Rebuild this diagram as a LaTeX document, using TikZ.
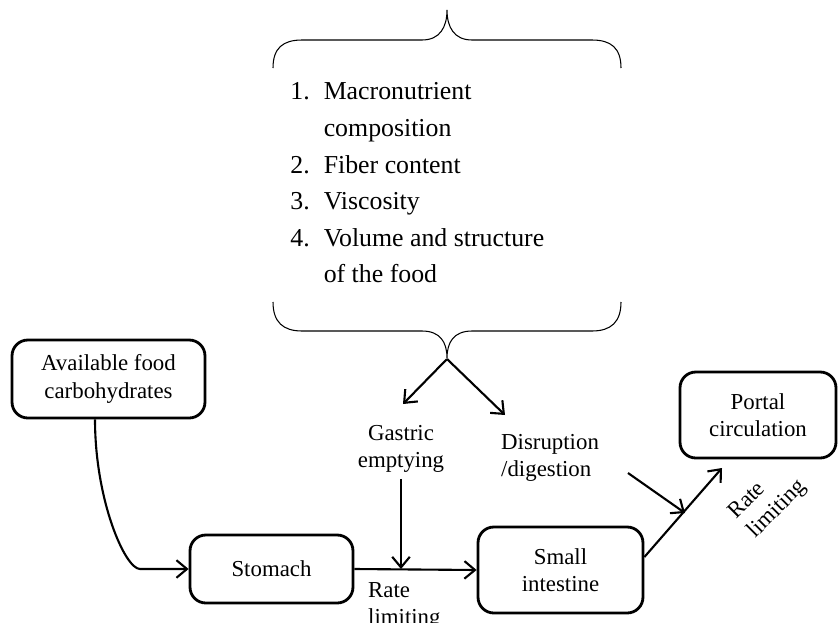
\documentclass[tikz,border=0pt]{standalone}
\usepackage{fontspec}
\setmainfont{Liberation Serif}
\usetikzlibrary{arrows.meta}

\tikzset{
  stagebox/.style={draw, line width=1.6pt, rounded corners=9pt, align=center,
    font=\fontsize{13}{15.5}\selectfont},
  note/.style={font=\fontsize{13}{15.5}\selectfont},
  flow/.style={line width=1.2pt, -{Straight Barb[length=6pt,width=10pt]}},
  brace/.style={line width=0.6pt},
}

\begin{document}
\begin{tikzpicture}[x=0.02cm,y=-0.02cm]
    \useasboundingbox (0,0) rectangle (838,622);

    % stages
    \node[stagebox, minimum width=3.86cm, minimum height=1.56cm] (avail) at (108.5,379) {Available food\\carbohydrates};
    \node[stagebox, minimum width=3.26cm, minimum height=1.36cm] (stomach) at (271.5,569) {Stomach};
    \node[stagebox, minimum width=3.3cm, minimum height=1.72cm] (intestine) at (560.5,570) {Small\\intestine};
    \node[stagebox, minimum width=3.12cm, minimum height=1.72cm] (portal) at (758,415) {Portal\\circulation};

    % factors between the braces
    \node[anchor=west, inner sep=0pt, font=\fontsize{14.7}{20.8}\selectfont] (factors) at (290,184) {%
      \begin{tabular}{@{}l@{\hspace{8pt}}l@{}}
        1. & Macronutrient\\
           & composition\\
        2. & Fiber content\\
        3. & Viscosity\\
        4. & Volume and structure\\
           & of the food
      \end{tabular}};
    \draw[brace] (273,68) .. controls (273,48) and (283,40) .. (302,40) -- (422,40)
      .. controls (440,40) and (447,27) .. (447,10)
      .. controls (447,27) and (454,40) .. (472,40) -- (592,40)
      .. controls (611,40) and (621,48) .. (621,68);
    \draw[brace] (273,302) .. controls (273,322) and (283,331) .. (302,331) -- (422,331)
      .. controls (440,331) and (447,342) .. (447,358)
      .. controls (447,342) and (454,331) .. (472,331) -- (592,331)
      .. controls (611,331) and (621,322) .. (621,302);

    % labels
    \node[note, align=center] (gastric) at (401,449) {Gastric\\emptying};
    \node[note, align=left, anchor=west] (disrupt) at (495,458) {Disruption\\/digestion};
    \node[note, align=left, anchor=west] (ratelimA) at (362,606) {Rate\\limiting};
    \node[note, align=left, rotate=45] (ratelimB) at (768,500) {Rate\\limiting};

    \coordinate (tip) at (447,359);
    \coordinate (tipL) at (403,404);
    \coordinate (tipR) at (505,415);
    \coordinate (dstart) at (628,473);
    \coordinate (merge) at (685,513);
    \coordinate (portin) at (722,468);

    % flow
    \draw[flow] ([xshift=-0.27cm]avail.south) .. controls (95,500) and (125,569) .. (140,569) -- (stomach.west);
    \draw[flow] (stomach.east) -- (intestine.west);
    \draw[flow] (gastric.south) -- (gastric.south |- stomach.east);
    \draw[flow] (tip) -- (tipL);
    \draw[flow] (tip) -- (tipR);
    \draw[flow] ([yshift=0.26cm]intestine.east) -- (portin);
    \draw[flow] (dstart) -- (merge);

\end{tikzpicture}
\end{document}
